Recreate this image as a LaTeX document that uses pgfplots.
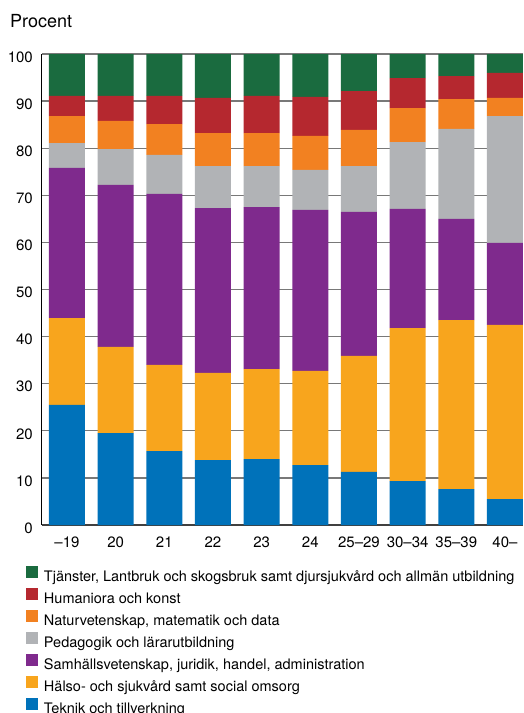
\documentclass[border=0pt]{standalone}
\usepackage{pgfplots}
\usepackage{pgfplotstable}
\pgfplotsset{compat=1.18}
\usepackage{fontspec}
\setmainfont{TeX Gyre Heros}

\definecolor{cGreen}{HTML}{1A6B3F}
\definecolor{cRed}{HTML}{B5282F}
\definecolor{cOrange}{HTML}{F28121}
\definecolor{cGray}{HTML}{B1B3B6}
\definecolor{cPurple}{HTML}{7F2A8D}
\definecolor{cYellow}{HTML}{F8A51D}
\definecolor{cBlue}{HTML}{0072BA}
\definecolor{cGrid}{HTML}{787878}

% share (%) per age group, bottom to top
\pgfplotstableread{
x tek hal sam ped nat hum tja
0 25.5 18.4 31.9 5.3 5.7 4.3 8.9
1 19.5 18.3 34.4 7.6 6.0 5.3 8.9
2 15.7 18.3 36.3 8.3 6.5 6.0 8.9
3 13.8 18.5 35.0 8.9 7.0 7.5 9.3
4 14.0 19.1 34.4 8.7 7.0 7.9 8.9
5 12.7 20.0 34.2 8.5 7.2 8.3 9.1
6 11.3 24.6 30.6 9.7 7.7 8.2 7.9
7 9.3 32.5 25.3 14.2 7.2 6.4 5.1
8 7.6 35.9 21.5 19.1 6.3 4.9 4.7
9 5.5 37.0 17.4 26.9 3.9 5.3 4.0
}\data

\begin{document}
\begin{tikzpicture}
\path[use as bounding box] (0,0) rectangle (524pt,-713pt);

\node[anchor=base west, inner sep=0pt, font=\fontsize{18}{21}\selectfont] at (10pt,-27pt) {Procent};

\begin{axis}[
    at={(42pt,-525pt)}, anchor=south west,
    scale only axis,
    width=481pt, height=471pt,
    ybar stacked, bar width=36pt,
    xmin=-0.513, xmax=9.37,
    ymin=0, ymax=100,
    axis x line*=bottom, axis y line*=left,
    axis line style={-},
    x axis line style={draw=black!75, line width=1.2pt},
    y axis line style={draw=black, line width=1pt},
    ytick={0,10,...,100},
    xtick={0,...,9},
    xticklabels={–19,20,21,22,23,24,25–29,30–34,35–39,40–},
    major tick length=0pt,
    ymajorgrids, major grid style={draw=cGrid, line width=1.3pt},
    tick label style={font=\fontsize{15}{18}\selectfont},
    /pgf/number format/assume math mode=true,
    yticklabel style={anchor=east, inner sep=0pt, xshift=-9pt, yshift=-3pt},
    xticklabel style={anchor=north, inner sep=0pt, yshift=-12pt},
    reverse legend,
    legend cell align=left,
    legend image code/.code={\fill[#1, draw=none] (0pt,-0.5pt) rectangle (12pt,11.5pt);},
    legend style={
        at={(-0.0333,-0.0877)}, anchor=north west,
        draw=none, fill=none, inner sep=0pt, outer sep=0pt,
        font=\fontsize{14.5}{17}\selectfont,
        nodes={inner sep=0pt, text height=11pt, text depth=4pt},
        row sep=3pt,
        /tikz/every odd column/.append style={column sep=6pt},
    },
]
\addplot[fill=cBlue, draw=none] table[x=x, y=tek] {\data};
\addplot[fill=cYellow, draw=none] table[x=x, y=hal] {\data};
\addplot[fill=cPurple, draw=none] table[x=x, y=sam] {\data};
\addplot[fill=cGray, draw=none] table[x=x, y=ped] {\data};
\addplot[fill=cOrange, draw=none] table[x=x, y=nat] {\data};
\addplot[fill=cRed, draw=none] table[x=x, y=hum] {\data};
\addplot[fill=cGreen, draw=none] table[x=x, y=tja] {\data};
\legend{Teknik och tillverkning,
        Hälso- och sjukvård samt social omsorg,
        {Samhällsvetenskap, juridik, handel, administration},
        Pedagogik och lärarutbildning,
        {Naturvetenskap, matematik och data},
        Humaniora och konst,
        {Tjänster, Lantbruk och skogsbruk samt djursjukvård och allmän utbildning}}
\end{axis}
\end{tikzpicture}
\end{document}
